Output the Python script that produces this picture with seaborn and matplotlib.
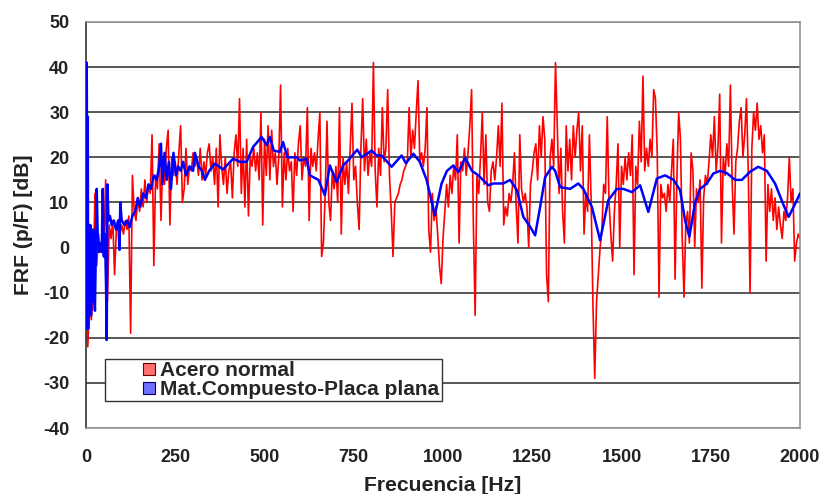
import numpy as np
import pandas as pd
import matplotlib
matplotlib.use("Agg")
import matplotlib.pyplot as plt
from matplotlib.patches import Patch, Rectangle
from matplotlib.legend_handler import HandlerPatch
import seaborn as sns

# ---------------- data ----------------
red_freq = list(range(0, 2001, 5))
red_db = [
    -8, -22, -12, -16, -9, 12, -4, 3, -1, 2, -1, 15, -12, 5, 2, 6, -6, 4, 6, 3,
    5, 3, 6, 4, 7, -19, 16, 8, 6, 11, 8, 13, 9, 15, 10, 14, 12, 25, -4, 16,
    13, 23, 6, 19, 14, 22, 26, 5, 20, 16, 19, 14, 21, 27, 10, 13, 22, 14, 18, 17,
    21, 18, 20, 16, 22, 15, 19, 16, 21, 23, 17, 20, 14, 22, 9, 25, 18, 14, 20, 12,
    17, 19, 11, 21, 25, 18, 33, 12, 22, 9, 24, 7, 20, 18, 22, 17, 21, 15, 30, 5,
    24, 16, 27, 15, 26, 18, 21, 14, 20, 36, 9, 21, 15, 22, 17, 19, 8, 21, 16, 23,
    27, 15, 20, 18, 31, 6, 22, 18, 21, 17, 24, 30, -2, 1, 12, 28, 10, 6, 17, 13,
    18, 10, 31, 3, 20, 14, 19, 12, 22, 32, 15, 18, 10, 4, 22, 33, 17, 24, 16, 21,
    18, 41, 17, 9, 22, 16, 31, 19, 22, 35, 16, 8, -2, 10, 11, 12, 14, 15, 17, 18,
    19, 31, 20, 26, 22, 30, 37, 19, 21, 18, 22, 31, 4, -1, 12, 6, 9, 3, -4, -8,
    2, 8, 14, 9, 16, 12, 18, 15, 25, 1, 19, 17, 22, 16, 21, 27, 35, 5, -15, 16,
    12, 20, 30, 14, 25, 10, 8, 17, 19, 15, 20, 27, 18, 32, 5, 9, 7, 12, 10, 14,
    21, 9, 1, 25, 13, 10, 12, 9, 0, 14, 17, 21, 23, 15, 27, 20, 29, 24, -6, -12,
    20, 24, 18, 41, 27, 12, 22, 8, 1, 27, 17, 24, 15, 27, 20, 26, 30, 17, 27, 3,
    12, 8, 25, 10, -13, -29, -12, -6, 0, 4, 14, 12, 29, 10, 3, -3, 8, 14, 23, 0,
    18, 14, 20, 15, 21, 16, 25, -6, 18, 14, 28, 19, 38, 17, 22, 18, 24, 20, 35, 33,
    21, -11, 14, 11, 12, 8, 14, 10, 17, 24, -7, 15, 30, 24, 2, -11, 5, 8, 1, 21,
    17, 0, 13, 10, 15, -9, 11, 16, 14, 19, 25, 20, 29, 17, 22, 34, 1, 20, 16, 23,
    18, 36, 14, 3, 19, 22, 28, 31, 20, 25, 33, 17, -10, 22, 30, 26, 32, 24, 27, 21,
    25, -3, 14, 8, 13, 6, 11, 4, 9, 5, 2, 8, 6, 11, 20, 10, 13, -3, 1, 3,
    2,
]

blue_freq = [
    0, 2, 4, 5, 6, 8, 10, 12, 14, 16, 18, 20, 22, 25, 28, 30, 33, 36, 40, 44,
    47, 50, 53, 56, 58, 60, 63, 67, 72, 78, 84, 90, 94, 96, 100, 108, 115, 122, 130, 138,
    145, 152, 160, 168, 175, 182, 190, 198, 205, 210, 214, 220, 226, 232, 238, 245, 252, 258, 265, 272,
    280, 290, 300, 305, 315, 325, 333, 345, 361, 384, 412, 431, 450, 468, 492, 506, 515, 526, 543, 552,
    564, 590, 599, 618, 627, 651, 669, 683, 702, 720, 734, 760, 772, 800, 814, 828, 856, 884, 896, 917,
    935, 954, 977, 996, 1011, 1029, 1043, 1062, 1081, 1099, 1127, 1141, 1169, 1188, 1207, 1225, 1244, 1258, 1272, 1286,
    1305, 1314, 1328, 1356, 1379, 1393, 1417, 1440, 1463, 1487, 1505, 1529, 1552, 1575, 1599, 1622, 1646, 1664, 1678, 1690,
    1706, 1720, 1739, 1757, 1776, 1795, 1818, 1837, 1860, 1883, 1907, 1930, 1954, 1968, 1982, 2000,
]
blue_db = [
    -18, 41, -5, 29, -18, 5, -13, 5, -15, -2, -12, 4, -8, -14, 3, 13, 2, -1, 1, -1,
    13, -2, 3, -8, -20.5, 14, 6, 7, 5, 6, 4, 6, -0.5, 10, 6, 5, 6, 4.5, 7, 8,
    11, 9, 12, 11, 14, 13, 16, 15, 18, 23, 14, 21, 15, 19, 13, 21, 16, 18, 17, 19,
    16, 18, 17, 21, 18, 17, 15, 17, 18.6, 17.3, 19.7, 19, 19, 22.3, 24.5, 22.7, 24.5, 21.5, 21.2, 23.4,
    20, 20, 19.3, 19.7, 16, 15, 11.6, 18.2, 14.5, 18.2, 19.3, 21.7, 20, 21.5, 20.4, 20.4, 17.9, 20.4, 18.7, 20.8,
    19, 15, 7.2, 14.2, 17, 18.2, 16.7, 19.9, 17, 16, 13.8, 14.2, 14.2, 15, 12.7, 6.8, 4.6, 2.7, 9, 15.6,
    17.9, 17, 13.4, 13, 14.2, 13, 9, 1.6, 10.5, 13, 13, 12.3, 13.8, 7.9, 15.3, 16, 15, 12.7, 6, 2.4,
    10, 13, 14.2, 16.4, 17, 16.5, 15, 15, 16.8, 17.9, 17, 14.2, 9.4, 6.8, 9, 12,
]

series_names = ["Acero normal", "Mat.Compuesto-Placa plana"]
y_ticks = list(range(-40, 51, 10))
x_ticks = [0, 250, 500, 750, 1000, 1250, 1500, 1750, 2000]

red_df = pd.DataFrame({"f": red_freq, "db": red_db})
blue_df = pd.DataFrame({"f": blue_freq, "db": blue_db})

# ---------------- plot ----------------
sns.set_style("white")
plt.rcParams["font.family"] = ["Liberation Sans", "DejaVu Sans"]

fig = plt.figure(figsize=(8.23, 4.94), dpi=100)
fig.patch.set_facecolor("white")
ax = fig.add_axes([0.1045, 0.1336, 0.8676, 0.8219])

for yv in y_ticks:
    col = "#8c8c8c" if yv in (50, -40) else "#2a2a2a"
    ax.axhline(yv, color=col, lw=1.1, zorder=0)

sns.lineplot(data=red_df, x="f", y="db", ax=ax, color="#ff0000", lw=1.2,
             sort=False, estimator=None, zorder=2)
sns.lineplot(data=blue_df, x="f", y="db", ax=ax, color="#0000ff", lw=1.8,
             sort=False, estimator=None, zorder=3)

ax.set_xlim(0, 2000)
ax.set_ylim(-40, 50)
ax.set_xticks(x_ticks)
ax.set_yticks(y_ticks)
ax.set_xticklabels([str(t) for t in x_ticks], fontsize=13, fontweight="bold", color="#222222")
ax.set_yticklabels([str(t) for t in y_ticks], fontsize=13, fontweight="bold", color="#222222")
ax.tick_params(axis="y", direction="out", length=6, width=1, color="black", pad=6)
ax.tick_params(axis="x", length=0, pad=15)
ax.set_xlabel("Frecuencia [Hz]", fontsize=15.2, fontweight="bold", color="#222222", labelpad=7)
ax.set_ylabel("FRF (p/F) [dB]", fontsize=15.2, fontweight="bold", color="#222222", labelpad=7)

for side in ["top", "right", "bottom"]:
    ax.spines[side].set_color("#8c8c8c")
    ax.spines[side].set_linewidth(1.1)
ax.spines["left"].set_color("#222222")
ax.spines["left"].set_linewidth(1.1)


def square_handle(legend, orig_handle, xdescent, ydescent, width, height, fontsize):
    s = 8.5
    return Rectangle((width - s - xdescent, -ydescent + (height - s) / 2.0), s, s)


handles = [Patch(facecolor="#ff7070", edgecolor="#700000", lw=0.8),
           Patch(facecolor="#7070ff", edgecolor="#000070", lw=0.8)]
leg = ax.legend(handles, series_names, loc="lower left",
                bbox_to_anchor=(0.027, 0.066),
                prop={"weight": "bold", "size": 15},
                frameon=True, fancybox=False, edgecolor="#333333",
                framealpha=1, borderpad=0.1, labelspacing=0.0,
                handlelength=2.3, handleheight=0.7, handletextpad=0.25,
                borderaxespad=0,
                handler_map={Patch: HandlerPatch(patch_func=square_handle)})
leg.get_frame().set_linewidth(1.0)
leg.set_zorder(5)

fig.savefig("out.png", dpi=100, facecolor="white")
